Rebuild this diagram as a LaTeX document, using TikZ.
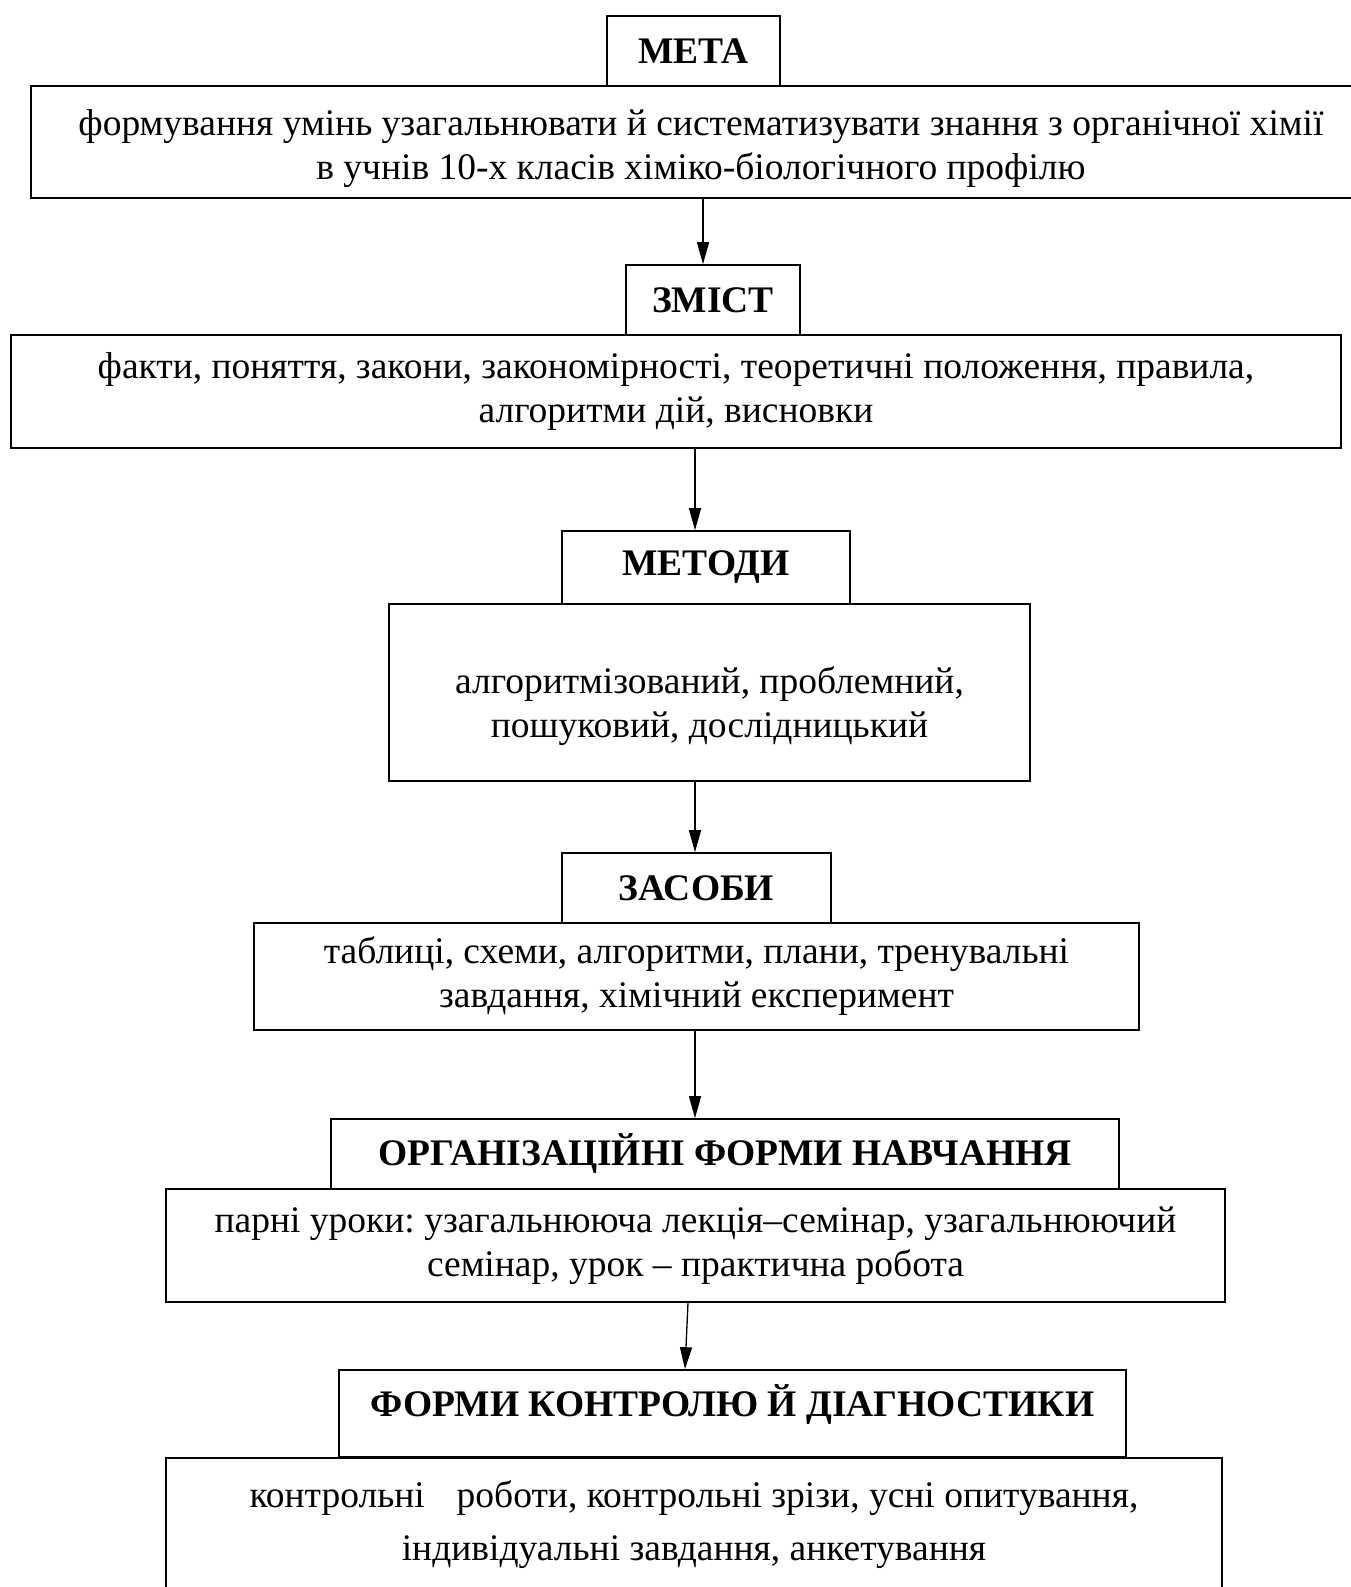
\documentclass[tikz,border=0pt]{standalone}
\usepackage{fontspec}
\setmainfont{Liberation Serif}
\usetikzlibrary{arrows.meta}
\frenchspacing
\begin{document}
\begin{tikzpicture}[x=1pt,y=-1pt,
  box/.style={draw,line width=1.6pt,inner sep=0pt,align=center},
  head/.style={box,font=\fontsize{37.5}{44}\selectfont\bfseries},
  txt/.style={box,font=\fontsize{37.5}{44}\selectfont},
  arr/.style={line width=1.3pt,-{Triangle[length=22pt,width=12pt]}}]
\useasboundingbox (0,0) rectangle (1351,1587);
% goal
\node[head,minimum width=173,minimum height=70] (meta) at (693.5,51) {МЕТА};
\node[txt,minimum width=1340,minimum height=112] (goal) at (701,142)
  {\rule{0pt}{40pt}формування умінь узагальнювати й систематизувати знання з органічної хімії\\
   в учнів 10-х класів хіміко-біологічного профілю};
% content
\node[head,minimum width=174,minimum height=70] (zmist) at (713,300) {ЗМІСТ};
\node[txt,minimum width=1330,minimum height=113] (content) at (676,391.5)
  {факти, поняття, закони, закономірності, теоретичні положення, правила,\\
   алгоритми дій, висновки};
% methods
\node[head,minimum width=288,minimum height=73] (metody) at (706,567.5) {МЕТОДИ};
\node[txt,minimum width=641,minimum height=177] (methods) at (709.5,692.5)
  {\rule{0pt}{54pt}алгоритмізований, проблемний,\\ пошуковий, дослідницький};
% means
\node[head,minimum width=269,minimum height=70] (zasoby) at (696.5,888) {ЗАСОБИ};
\node[txt,minimum width=885,minimum height=107] (means) at (696.5,976.5)
  {таблиці, схеми, алгоритми, плани, тренувальні\\ завдання, хімічний експеримент};
% forms
\node[head,minimum width=788,minimum height=70] (org) at (725,1154) {ОРГАНІЗАЦІЙНІ ФОРМИ НАВЧАННЯ};
\node[txt,minimum width=1059,minimum height=113] (forms) at (695.5,1245.5)
  {парні уроки: узагальнююча лекція–семінар, узагальнюючий\\ семінар, урок – практична робота};
% control
\node[head,minimum width=787,minimum height=87,text height=27pt,text depth=21pt] (diag) at (732.5,1413.5)
  {ФОРМИ КОНТРОЛЮ Й ДІАГНОСТИКИ};
\node[txt,minimum width=1056,minimum height=134,anchor=north,
  font=\fontsize{37.5}{53}\selectfont] (control) at (694,1457)
  {контрольні\hspace{0.6em} роботи, контрольні зрізи, усні опитування,\\
   індивідуальні завдання, анкетування};
% arrows
\draw[arr] ([xshift=2pt]goal.south) -- ([xshift=-10pt]zmist.north);
\draw[arr] ([xshift=19pt]content.south) -- ([xshift=-11pt]metody.north);
\draw[arr] ([xshift=-14.5pt]methods.south) -- ([xshift=-1.5pt]zasoby.north);
\draw[arr] ([xshift=-1.5pt]means.south) -- ([xshift=-30pt]org.north);
\draw[arr] ([xshift=-7.5pt]forms.south) -- ([xshift=-47.5pt]diag.north);
\end{tikzpicture}
\end{document}
